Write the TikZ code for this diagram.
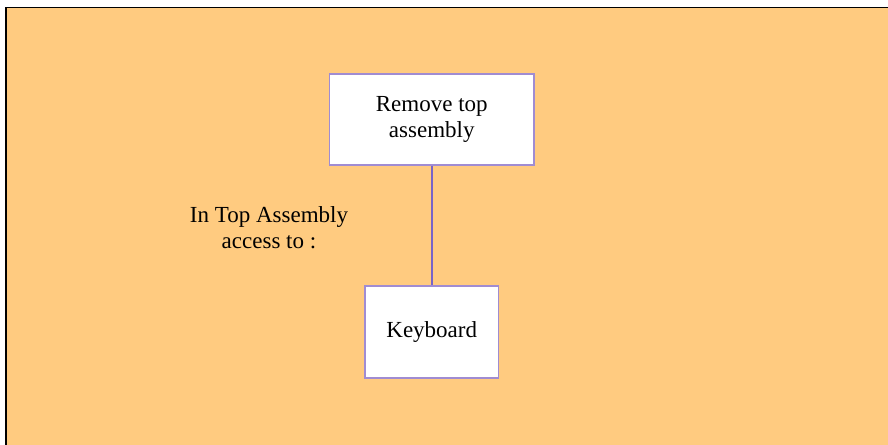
\documentclass[tikz,border=0pt]{standalone}
\usepackage{fontspec}
\setmainfont{Liberation Serif}
\definecolor{bgorange}{RGB}{255,203,128}
\definecolor{boxedge}{RGB}{160,140,210}
\definecolor{linkcol}{RGB}{120,100,200}
\tikzset{
  stepbox/.style={draw=boxedge, line width=1.2pt, fill=white, rectangle, align=center,
    inner sep=0pt, font=\fontsize{23}{26}\selectfont},
  plaintext/.style={align=center, inner sep=0pt, font=\fontsize{23}{26}\selectfont},
  link/.style={draw=linkcol, line width=1.5pt}
}
\begin{document}
\begin{tikzpicture}[x=1pt,y=-1pt]
\useasboundingbox (0,0) rectangle (888,444);
\fill[white] (0,0) rectangle (888,444);
\fill[bgorange] (6,7.5) rectangle (892,448);
\draw[black, line width=1.6pt] (6,448) -- (6,7.5) -- (892,7.5);
\node[stepbox, minimum width=204.5pt, minimum height=91pt] (top) at (431.75,119.5) {Remove top\\assembly};
\node[stepbox, minimum width=133.5pt, minimum height=92pt] (kb) at (431.75,332) {Keyboard};
\node[plaintext] (lbl) at (269,228) {In Top Assembly\\access to :};
\draw[link] (top.south) -- (kb.north);
\end{tikzpicture}
\end{document}
